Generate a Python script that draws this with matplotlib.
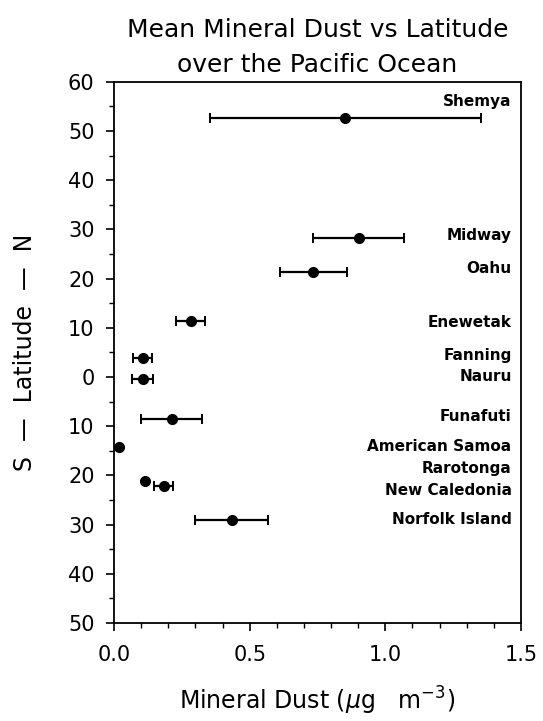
import matplotlib
matplotlib.use("Agg")
import matplotlib.pyplot as plt
import numpy as np
from matplotlib.ticker import MultipleLocator, FuncFormatter

stations = ["Shemya", "Midway", "Oahu", "Enewetak", "Fanning", "Nauru",
            "Funafuti", "American Samoa", "Rarotonga", "New Caledonia",
            "Norfolk Island"]
latitude = [52.7, 28.2, 21.3, 11.3, 3.9, -0.5, -8.5, -14.3, -21.2, -22.2, -29.0]
dust = [0.853, 0.902, 0.735, 0.282, 0.105, 0.105, 0.212, 0.020, 0.113, 0.183, 0.434]
dust_err = [0.50, 0.167, 0.123, 0.055, 0.035, 0.037, 0.112, 0.0, 0.0, 0.036, 0.135]
label_lat = [56.0, 28.7, 22.0, 11.0, 4.3, 0.0, -8.0, -14.2, -18.6, -23.0, -29.0]

plt.rcParams['font.family'] = ['DejaVu Sans']
fig = plt.figure(figsize=(5.43, 7.21), dpi=100)
ax = fig.add_axes([0.21, 0.136, 0.7495, 0.7505])

for x, y, e in zip(dust, latitude, dust_err):
    if e > 0:
        ax.errorbar(x, y, xerr=e, fmt='o', color='black', ms=7,
                    elinewidth=1.6, capsize=3.5, capthick=1.4, clip_on=False)
    else:
        ax.plot(x, y, 'o', color='black', ms=7, clip_on=False)

for name, ly in zip(stations, label_lat):
    ax.text(1.465, ly, name, ha='right', va='center', fontsize=11,
            fontweight='bold', family='DejaVu Sans')

ax.set_xlim(0, 1.5)
ax.set_ylim(-50, 60)
ax.xaxis.set_major_locator(MultipleLocator(0.5))
ax.xaxis.set_minor_locator(MultipleLocator(0.1))
ax.yaxis.set_major_locator(MultipleLocator(10))
ax.yaxis.set_minor_locator(MultipleLocator(5))
ax.xaxis.set_major_formatter(FuncFormatter(lambda v, p: f"{v:.1f}"))
ax.yaxis.set_major_formatter(FuncFormatter(lambda v, p: f"{abs(v):.0f}"))
ax.tick_params(axis='both', which='major', direction='out', length=6, width=1.2,
               labelsize=15, pad=8)
ax.tick_params(axis='both', which='minor', direction='out', length=3.5, width=1.0)
ax.tick_params(axis='x', pad=10)
for s in ax.spines.values():
    s.set_linewidth(1.3)

ax.set_xlabel(r"Mineral Dust ($\mu$g   m$^{-3}$)", fontsize=17, labelpad=14)
ax.set_ylabel("S  \u2014  Latitude  \u2014  N", fontsize=17, labelpad=22)
ax.set_title("Mean Mineral Dust vs Latitude\nover the Pacific Ocean",
             fontsize=18, linespacing=1.6, pad=7)

fig.savefig("out.png", dpi=100)
